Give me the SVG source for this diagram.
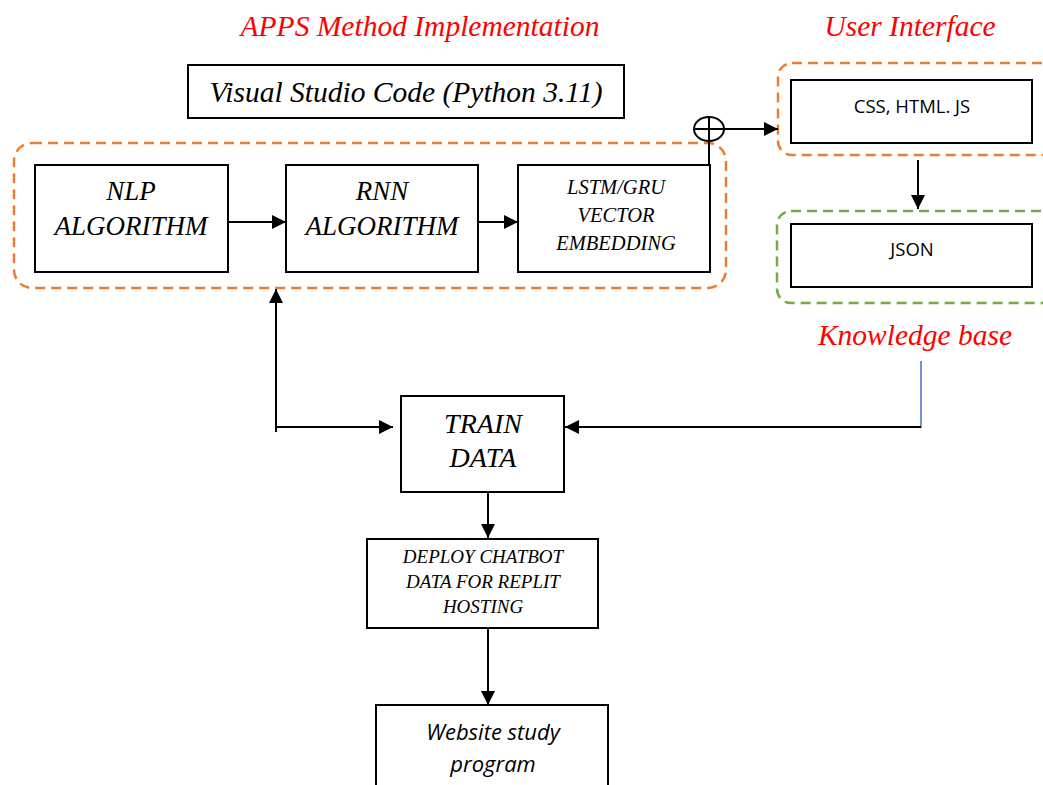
<svg xmlns="http://www.w3.org/2000/svg" width="1043" height="785" viewBox="0 0 1043 785">
  <defs>
    <marker id="arr" viewBox="0 0 10 10" refX="10" refY="5" markerWidth="7" markerHeight="7" orient="auto">
      <path d="M0,0 L10,5 L0,10 z" fill="#000"/>
    </marker>
    <style>
      .box { fill: #fff; stroke: #000; stroke-width: 2; }
      .serif { font-family: "Liberation Serif", "Times New Roman", serif; font-style: italic; fill: #000; text-anchor: middle; }
      .sans { font-family: "Open Sans", "Liberation Sans", sans-serif; fill: #000; text-anchor: middle; }
      .title { font-family: "Liberation Serif", "Times New Roman", serif; font-style: italic; fill: #ff0000; text-anchor: middle; font-size: 29.5px; }
      .conn { stroke: #000; stroke-width: 2; fill: none; }
      .dash-o { fill: none; stroke: #ed7d31; stroke-width: 2.5; stroke-dasharray: 10 6; }
      .dash-g { fill: none; stroke: #70ad47; stroke-width: 2.5; stroke-dasharray: 10 6; }
    </style>
  </defs>

  <rect width="1043" height="785" fill="#fff"/>

  <!-- headings -->
  <text class="title" x="420" y="36">APPS Method Implementation</text>
  <text class="title" x="910" y="36">User Interface</text>
  <text class="title" x="915" y="345">Knowledge base</text>

  <!-- dashed group frames -->
  <rect class="dash-o" x="14" y="143" width="712" height="145" rx="18"/>
  <rect class="dash-o" x="778" y="63" width="280" height="92" rx="14"/>
  <rect class="dash-g" x="777" y="211" width="280" height="92" rx="14"/>

  <g id="vscode">
    <rect class="box" x="188" y="65" width="436" height="53"/>
    <text class="serif" x="406" y="102" font-size="29.5">Visual Studio Code (Python 3.11)</text>
  </g>

  <g id="nlp">
    <rect class="box" x="35" y="165" width="193" height="107"/>
    <text class="serif" x="131" y="200" font-size="27">NLP</text>
    <text class="serif" x="131" y="235" font-size="27">ALGORITHM</text>
  </g>

  <g id="rnn">
    <rect class="box" x="286" y="165" width="192" height="107"/>
    <text class="serif" x="382" y="200" font-size="27">RNN</text>
    <text class="serif" x="382" y="235" font-size="27">ALGORITHM</text>
  </g>

  <g id="lstm">
    <rect class="box" x="518" y="165" width="192" height="107"/>
    <text class="serif" x="616" y="194" font-size="20.5">LSTM/GRU</text>
    <text class="serif" x="616" y="222" font-size="20.5">VECTOR</text>
    <text class="serif" x="616" y="250" font-size="20.5">EMBEDDING</text>
  </g>

  <g id="ui-code">
    <rect class="box" x="791" y="80" width="241" height="63"/>
    <text class="sans" x="912" y="113" font-size="18.5">CSS, HTML. JS</text>
  </g>

  <g id="json">
    <rect class="box" x="791" y="224" width="241" height="63"/>
    <text class="sans" x="912" y="256" font-size="18.5">JSON</text>
  </g>

  <g id="train">
    <rect class="box" x="401" y="396" width="163" height="96"/>
    <text class="serif" x="483" y="433" font-size="28">TRAIN</text>
    <text class="serif" x="483" y="467" font-size="28">DATA</text>
  </g>

  <g id="deploy">
    <rect class="box" x="367" y="539" width="231" height="89"/>
    <text class="serif" x="483" y="563" font-size="19">DEPLOY CHATBOT</text>
    <text class="serif" x="483" y="588" font-size="19">DATA FOR REPLIT</text>
    <text class="serif" x="483" y="613" font-size="19">HOSTING</text>
  </g>

  <g id="website">
    <rect class="box" x="376" y="705" width="232" height="90"/>
    <text class="sans" x="493" y="740" font-size="22" font-style="italic">Website study</text>
    <text class="sans" x="493" y="772" font-size="22" font-style="italic">program</text>
  </g>

  <g id="connectors">
    <line class="conn" x1="228" y1="222" x2="286" y2="222" marker-end="url(#arr)"/>
    <line class="conn" x1="478" y1="222" x2="518" y2="222" marker-end="url(#arr)"/>
    <!-- summing junction -->
    <ellipse cx="709" cy="129" rx="15" ry="12" fill="#fff" stroke="#000" stroke-width="2"/>
    <line class="conn" x1="709" y1="117" x2="709" y2="165"/>
    <line class="conn" x1="694" y1="129" x2="724" y2="129"/>
    <line class="conn" x1="724" y1="129" x2="778" y2="129" marker-end="url(#arr)"/>
    <line class="conn" x1="918" y1="160" x2="918" y2="209" marker-end="url(#arr)"/>
    <!-- knowledge base feed -->
    <line x1="921" y1="361" x2="921" y2="428" stroke="#4472c4" stroke-width="1.5"/>
    <line class="conn" x1="921" y1="427" x2="565" y2="427" marker-end="url(#arr)"/>
    <!-- training loop -->
    <polyline class="conn" points="276,432 276,427 393,427" marker-end="url(#arr)"/>
    <line class="conn" x1="276" y1="428" x2="276" y2="289" marker-end="url(#arr)"/>
    <line class="conn" x1="488" y1="492" x2="488" y2="538" marker-end="url(#arr)"/>
    <line class="conn" x1="488" y1="628" x2="488" y2="705" marker-end="url(#arr)"/>
  </g>
</svg>
